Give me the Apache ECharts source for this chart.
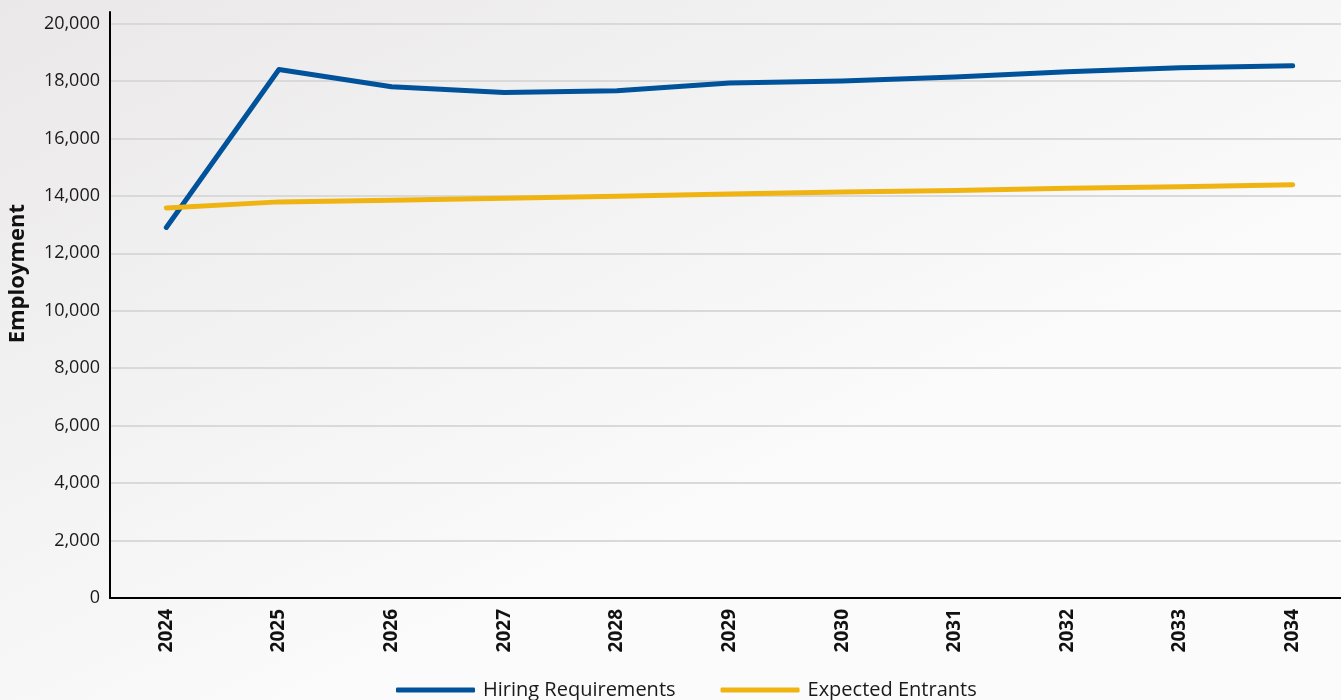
<!DOCTYPE html>
<html>
<head>
<meta charset="utf-8">
<style>
  html, body { margin: 0; padding: 0; }
  #chart { width: 1341px; height: 700px; }
</style>
<script src="https://cdn.jsdelivr.net/npm/echarts@6/dist/echarts.min.js"></script>
</head>
<body>
<div id="chart"></div>
<script>
const years = ['2024', '2025', '2026', '2027', '2028', '2029', '2030', '2031', '2032', '2033', '2034'];
const hiringRequirements = [12900, 18400, 17800, 17600, 17660, 17930, 18000, 18140, 18320, 18460, 18530];
const expectedEntrants = [13580, 13790, 13850, 13920, 13990, 14060, 14130, 14190, 14260, 14320, 14390];

const FONT = '"Open Sans", "Noto Sans", sans-serif';
// gridline colours: one per tick, the top extent line is left invisible
const gridColors = [];
for (let i = 0; i < 11; i++) gridColors.push('#d9d9d9');
gridColors.push('rgba(0,0,0,0)');

const chart = echarts.init(document.getElementById('chart'));
chart.setOption({
  backgroundColor: {
    type: 'linear', x: 0, y: 0, x2: 0.25, y2: 1,
    colorStops: [
      { offset: 0, color: '#eae8e9' },
      { offset: 1, color: '#fbfbfb' }
    ]
  },
  animation: false,
  grid: {
    left: 110, width: 1239, top: 12, bottom: 102,
    containLabel: false, outerBoundsMode: 'none'
  },
  legend: {
    top: 675,
    left: 391,
    itemWidth: 79,
    itemHeight: 5,
    itemGap: 45,
    icon: 'roundRect',
    textStyle: { fontFamily: FONT, fontSize: 20, color: '#1a1a1a', padding: [0, 0, 0, 3] },
    data: ['Hiring Requirements', 'Expected Entrants']
  },
  graphic: [{
    type: 'text',
    left: 7,
    top: 204,
    rotation: Math.PI / 2,
    style: {
      text: 'Employment',
      font: 'bold 22px "Open Sans", "Noto Sans", sans-serif',
      fill: '#111'
    }
  }],
  xAxis: {
    type: 'category',
    data: years,
    boundaryGap: true,
    axisLine: { lineStyle: { color: '#000', width: 2 } },
    axisTick: { show: false },
    axisLabel: {
      rotate: 90,
      margin: 11,
      fontFamily: FONT,
      fontWeight: 'bold',
      fontSize: 19,
      color: '#111'
    }
  },
  yAxis: {
    type: 'value',
    min: 0,
    max: 20400,
    interval: 2000,
    axisLine: { show: true, lineStyle: { color: '#000', width: 2 } },
    axisTick: { show: false },
    axisLabel: {
      showMaxLabel: false,
      margin: 10,
      fontFamily: FONT,
      fontSize: 18,
      color: '#1a1a1a',
      formatter: v => v.toLocaleString('en-US')
    },
    splitLine: { show: true, lineStyle: { color: gridColors, width: 2 } }
  },
  series: [
    {
      name: 'Hiring Requirements',
      type: 'line',
      data: hiringRequirements,
      symbol: 'none',
      color: '#00539b',
      lineStyle: { width: 5, cap: 'round', join: 'round' }
    },
    {
      name: 'Expected Entrants',
      type: 'line',
      data: expectedEntrants,
      symbol: 'none',
      color: '#efb412',
      lineStyle: { width: 5, cap: 'round', join: 'round' }
    }
  ]
});
</script>
</body>
</html>
